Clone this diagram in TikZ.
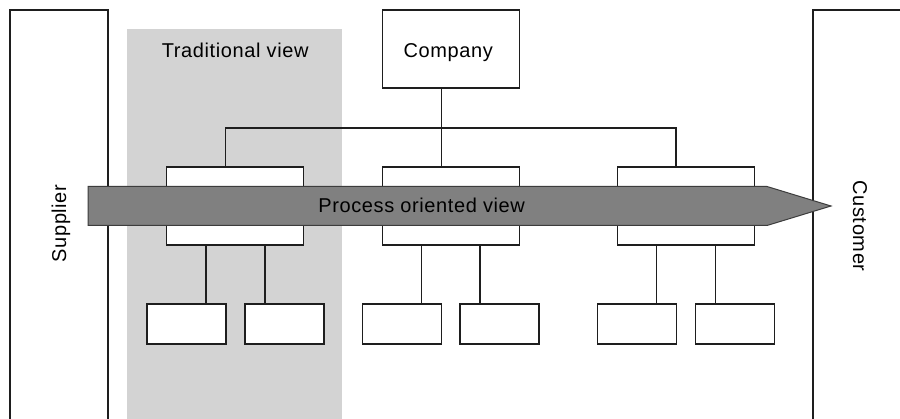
\documentclass[tikz,border=0pt]{standalone}
\usepackage{fontspec}
\setmainfont[LetterSpace=3]{Liberation Sans}
\definecolor{linec}{HTML}{1E1E1E}
\definecolor{viewgray}{HTML}{D3D3D3}
\definecolor{arrowgray}{HTML}{808080}
\definecolor{arrowedge}{HTML}{3C3C3C}
\begin{document}
\begin{tikzpicture}[x=1pt,y=-1pt,
  line/.style={draw=linec, line width=1.1pt},
  box/.style={line, fill=white, rectangle, inner sep=0pt},
  unit/.style={box, minimum width=137pt, minimum height=78pt},
  team/.style={box, minimum width=79pt, minimum height=40pt},
  lbl/.style={font=\fontsize{20}{24}\selectfont, inner sep=0pt, anchor=base, text=black}]

\useasboundingbox (0,0) rectangle (900,419);
\fill[white] (0,0) rectangle (900,419);

% shaded band for the traditional view
\fill[viewgray] (127,29) rectangle (342,419);
\node[lbl] (trad) at (235.2,57.7) {Traditional view};

% supplier and customer frames
\draw[line] (10,419) -- (10,10) -- (108,10) -- (108,419);
\draw[line] (813,419) -- (813,10) -- (900,10);

% company and its units
\node[box, minimum width=137pt, minimum height=78pt] (company) at (450.8,49) {};
\node[lbl] (companytext) at (448.3,57.3) {Company};

\node[unit] (u1) at (235.3,206) {};
\node[unit] (u2) at (450.8,206) {};
\node[unit] (u3) at (685.8,206) {};

\coordinate (bus) at (441.7,128);
\coordinate (j1) at (225.7,128);
\coordinate (j3) at (676,128);
\draw[line] (company.south -| bus) -- (bus |- u2.north);
\draw[line] (j1 |- u1.north) -- (j1) -- (j3) -- (j3 |- u3.north);

% teams below each unit
\node[team] (t11) at (186.5,324) {};
\node[team] (t12) at (284.5,324) {};
\node[team] (t21) at (402.2,324) {};
\node[team] (t22) at (499.5,324) {};
\node[team] (t31) at (637,324) {};
\node[team] (t32) at (734.8,324) {};

\coordinate (k11) at (206,280);
\coordinate (k12) at (265,280);
\coordinate (k21) at (421.7,280);
\coordinate (k22) at (480,280);
\coordinate (k31) at (656.7,280);
\coordinate (k32) at (715.3,280);
\draw[line] (k11 |- u1.south) -- (k11 |- t11.north);
\draw[line] (k12 |- u1.south) -- (k12 |- t12.north);
\draw[line] (k21 |- u2.south) -- (k21 |- t21.north);
\draw[line] (k22 |- u2.south) -- (k22 |- t22.north);
\draw[line] (k31 |- u3.south) -- (k31 |- t31.north);
\draw[line] (k32 |- u3.south) -- (k32 |- t32.north);

% process arrow across the organisation
\coordinate (pa1) at (88,186.5);
\coordinate (pa2) at (767,186.5);
\coordinate (pa3) at (831,206);
\coordinate (pa4) at (767,225.5);
\coordinate (pa5) at (88,225.5);
\draw[draw=arrowedge, fill=arrowgray, line width=1pt, line join=miter]
  (pa1) -- (pa2) -- (pa3) -- (pa4) -- (pa5) -- cycle;
\node[lbl] (process) at (421.7,213) {Process oriented view};

% side labels
\node[lbl, rotate=90] (supplier) at (66,223.5) {Supplier};
\node[lbl, rotate=-90] (customer) at (853,226) {Customer};
\end{tikzpicture}
\end{document}
